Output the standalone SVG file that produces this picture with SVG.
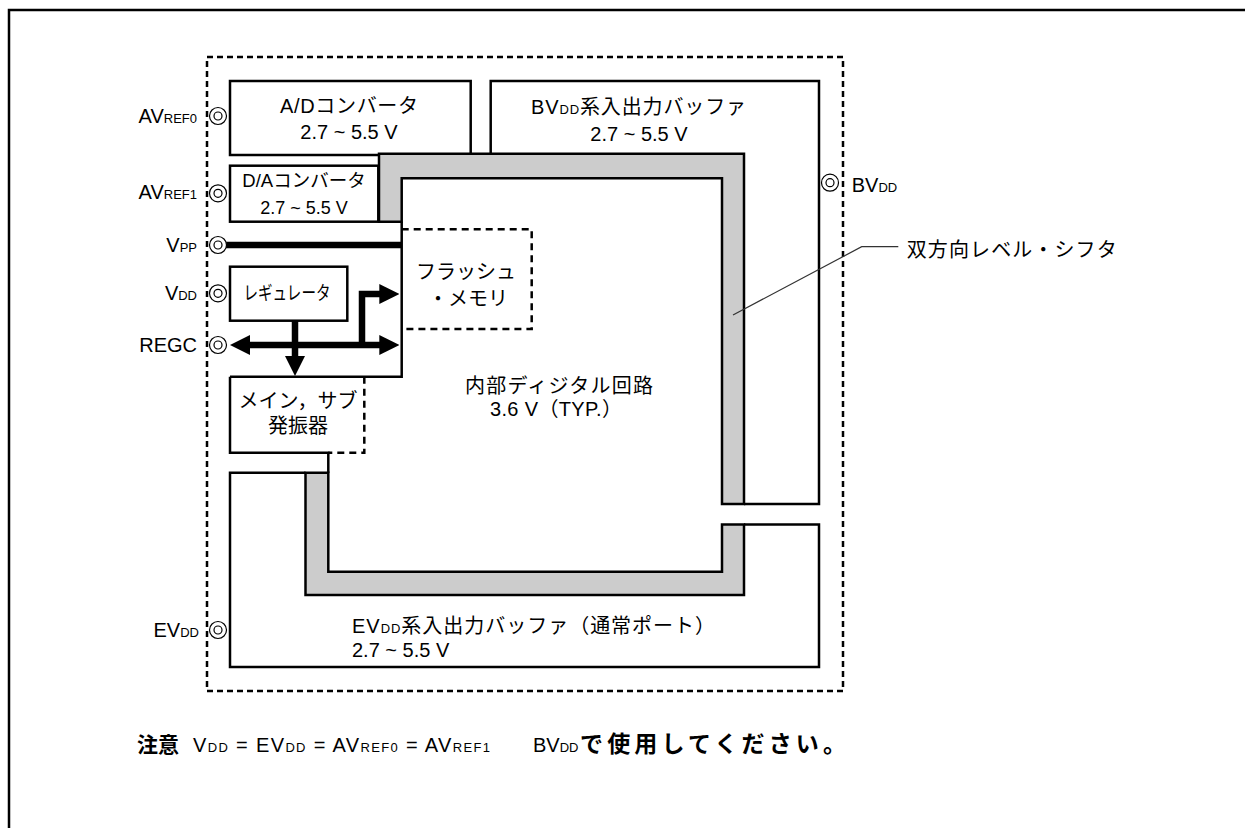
<svg xmlns="http://www.w3.org/2000/svg" width="1245" height="828" viewBox="0 0 1245 828">
<style>
text { font-family: "Liberation Sans", "Noto Sans CJK JP", sans-serif; fill: #000; font-size: 20px; }
.sub { font-size: 13px; }
.b { font-weight: bold; }
.box { fill: #fff; stroke: #000; stroke-width: 2.5; }
.ln { fill: none; stroke: #000; stroke-width: 2.5; }
.dash { fill: none; stroke: #000; stroke-width: 2.5; stroke-dasharray: 7 5; }
.outer { fill: none; stroke: #000; stroke-width: 2.5; stroke-dasharray: 6 4; }
.gray { fill: #cccccc; stroke: #000; stroke-width: 2.5; stroke-linejoin: miter; }
.pin { fill: #fff; stroke: #000; stroke-width: 1.2; }
.bus { fill: none; stroke: #000; stroke-width: 6.5; stroke-linejoin: miter; }
.lead { fill: none; stroke: #333; stroke-width: 1.2; }
</style>
<defs>
<marker id="ah" markerUnits="userSpaceOnUse" viewBox="0 0 20 20" markerWidth="20" markerHeight="20" refX="10" refY="10" orient="auto-start-reverse">
<path d="M0,0 L20,10 L0,20 Z" fill="#000"/>
</marker>
</defs>

<path d="M9,828 V10 H1245" fill="none" stroke="#000" stroke-width="2.5"/>
<rect x="207" y="57" width="636" height="634" class="outer"/>

<g id="ad-converter">
<rect x="230" y="81" width="240.7" height="74" class="box"/>
<text x="349" y="113" text-anchor="middle" textLength="138" lengthAdjust="spacing">A/Dコンバータ</text>
<text x="349" y="139" text-anchor="middle">2.7 ~ 5.5 V</text>
</g>

<g id="da-converter">
<rect x="230" y="165.7" width="148.3" height="56" class="box"/>
<text x="304" y="187.3" text-anchor="middle" style="font-size:18.5px">D/Aコンバータ</text>
<text x="304" y="214" text-anchor="middle" style="font-size:18px">2.7 ~ 5.5 V</text>
</g>

<g id="bvdd-buffer">
<path d="M490.7,153.7 V81 H819 V504 H744" class="ln"/>
<text x="638.5" y="114" text-anchor="middle" textLength="215" lengthAdjust="spacing">BV<tspan class="sub">DD</tspan>系入出力バッファ</text>
<text x="639" y="141" text-anchor="middle">2.7 ~ 5.5 V</text>
</g>

<g id="evdd-buffer">
<path d="M305.5,472.7 H230 V667 H819 V524.5 H744" class="ln"/>
<text x="352" y="633.3" textLength="363" lengthAdjust="spacing">EV<tspan class="sub">DD</tspan>系入出力バッファ（通常ポート）</text>
<text x="352" y="657.3">2.7 ~ 5.5 V</text>
</g>

<g id="level-shifter">
<path d="M379,153.7 H744 V504 H722 V178.3 H401.7 V221.7 H379 Z" class="gray"/>
<path d="M722,524.5 H744 V595 H305.5 V472.7 H328.3 V571.7 H722 Z" class="gray"/>
<path d="M733,315 L861.7,246.7 H898.3" class="lead"/>
<text x="906.7" y="256.7" textLength="210" lengthAdjust="spacing">双方向レベル・シフタ</text>
</g>

<g id="internal-digital">
<path d="M401.7,221.7 V376.7 H230" class="ln"/>
<text x="559" y="393.3" text-anchor="middle" textLength="188" lengthAdjust="spacing">内部ディジタル回路</text>
<text x="556" y="415.7" text-anchor="middle" textLength="132" lengthAdjust="spacing">3.6 V（TYP.）</text>
</g>

<g id="flash-memory">
<path d="M401.7,229.3 H531.7 V329 H401.7" class="dash"/>
<text x="466" y="279.3" text-anchor="middle">フラッシュ</text>
<text x="468" y="306" text-anchor="middle">・メモリ</text>
</g>

<g id="regulator">
<rect x="230" y="266.7" width="117.3" height="54" class="box"/>
<text x="287" y="300" text-anchor="middle" style="font-size:19px" textLength="87" lengthAdjust="spacingAndGlyphs">レギュレータ</text>
</g>

<g id="oscillator">
<path d="M230,376.7 V452.7 H328.3 V472.7" class="ln"/>
<path d="M364.3,376.7 V452.7 H328.3" class="dash"/>
<text x="298" y="408.3" text-anchor="middle">メイン，サブ</text>
<text x="298" y="433.3" text-anchor="middle">発振器</text>
</g>

<g id="connectors">
<path d="M226,245 H401" class="bus"/>
<path d="M240,345 H389.3" class="bus" marker-start="url(#ah)" marker-end="url(#ah)"/>
<path d="M295,320.7 V366" class="bus" marker-end="url(#ah)"/>
<path d="M362,345 V294 H389.3" class="bus" marker-end="url(#ah)"/>
</g>

<g id="pin-avref0">
<circle cx="218" cy="116" r="8.5" class="pin"/><circle cx="218" cy="116" r="4" class="pin"/>
<text x="197" y="122.7" text-anchor="end">AV<tspan class="sub">REF0</tspan></text>
</g>
<g id="pin-avref1">
<circle cx="218" cy="193.3" r="8.5" class="pin"/><circle cx="218" cy="193.3" r="4" class="pin"/>
<text x="197" y="199.3" text-anchor="end">AV<tspan class="sub">REF1</tspan></text>
</g>
<g id="pin-vpp">
<circle cx="218" cy="245" r="8.5" class="pin"/><circle cx="218" cy="245" r="4" class="pin"/>
<text x="197" y="251.7" text-anchor="end">V<tspan class="sub">PP</tspan></text>
</g>
<g id="pin-vdd">
<circle cx="218" cy="293.3" r="8.5" class="pin"/><circle cx="218" cy="293.3" r="4" class="pin"/>
<text x="197" y="300" text-anchor="end">V<tspan class="sub">DD</tspan></text>
</g>
<g id="pin-regc">
<circle cx="218" cy="345" r="8.5" class="pin"/><circle cx="218" cy="345" r="4" class="pin"/>
<text x="197" y="352" text-anchor="end">REGC</text>
</g>
<g id="pin-evdd">
<circle cx="218" cy="630" r="8.5" class="pin"/><circle cx="218" cy="630" r="4" class="pin"/>
<text x="199" y="637" text-anchor="end">EV<tspan class="sub">DD</tspan></text>
</g>
<g id="pin-bvdd">
<circle cx="830" cy="182.7" r="8.5" class="pin"/><circle cx="830" cy="182.7" r="4" class="pin"/>
<text x="851.7" y="191.7">BV<tspan class="sub">DD</tspan></text>
</g>

<g id="note">
<text x="137" y="752" class="b" style="font-size:21px">注意</text>
<text x="193" y="752" textLength="297" lengthAdjust="spacing">V<tspan class="sub">DD</tspan> = EV<tspan class="sub">DD</tspan> = AV<tspan class="sub">REF0</tspan> = AV<tspan class="sub">REF1</tspan></text>
<text x="533" y="752">BV<tspan class="sub">DD</tspan></text>
<text x="580" y="752" class="b" style="font-size:23px" textLength="266" lengthAdjust="spacing">で使用してください。</text>
</g>
</svg>
